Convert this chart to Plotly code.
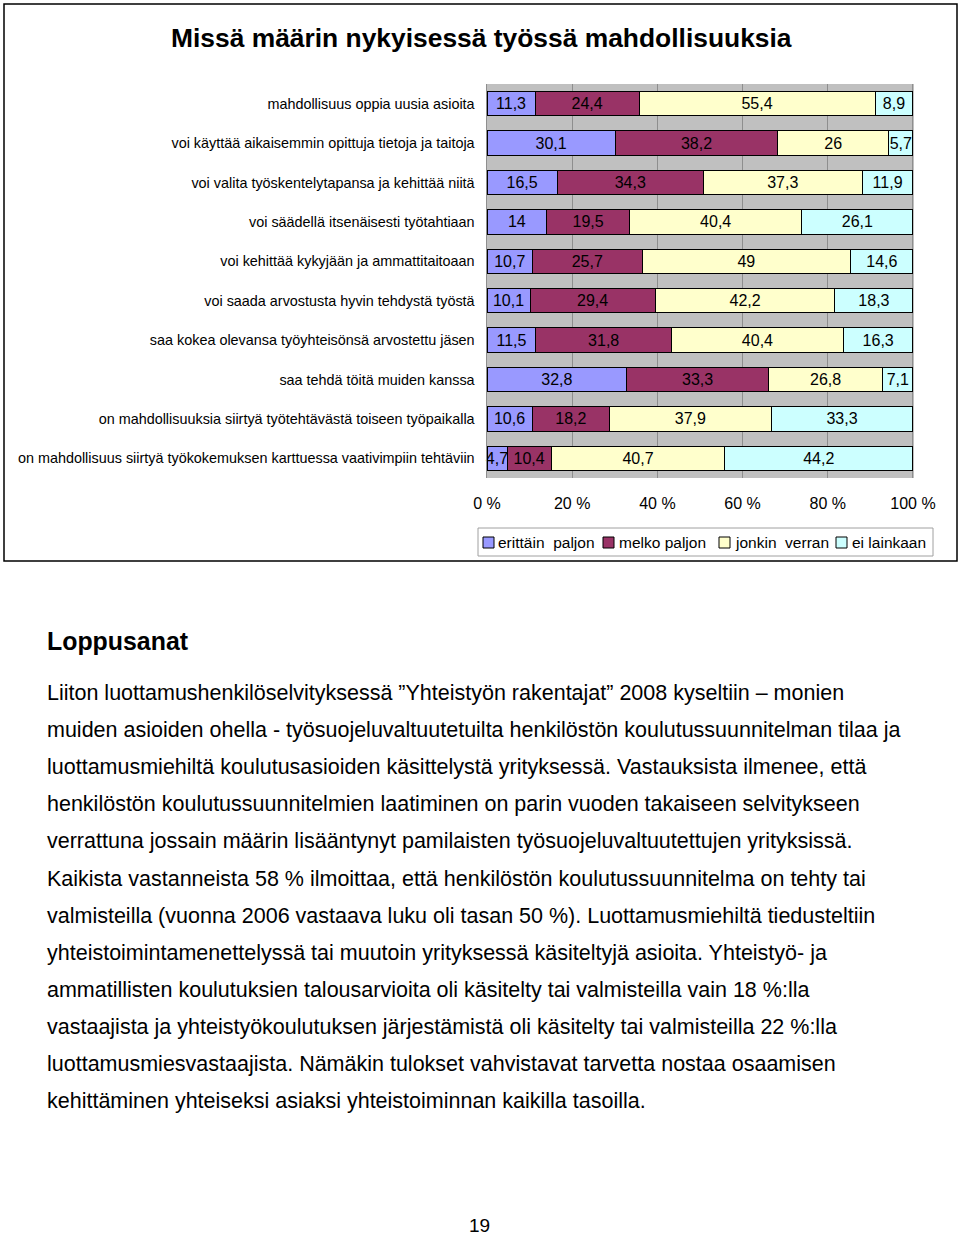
import plotly.graph_objects as go

FONT = "Liberation Sans, Arial, sans-serif"

title = "Missä määrin nykyisessä työssä mahdollisuuksia"
categories = [
    "mahdollisuus oppia uusia asioita",
    "voi käyttää aikaisemmin opittuja tietoja ja taitoja",
    "voi valita työskentelytapansa ja kehittää niitä",
    "voi säädellä itsenäisesti työtahtiaan",
    "voi kehittää kykyjään ja ammattitaitoaan",
    "voi saada arvostusta hyvin tehdystä työstä",
    "saa kokea olevansa työyhteisönsä arvostettu jäsen",
    "saa tehdä töitä muiden kanssa",
    "on mahdollisuuksia siirtyä työtehtävästä toiseen työpaikalla",
    "on mahdollisuus siirtyä työkokemuksen karttuessa vaativimpiin tehtäviin",
]
series_names = ["erittäin\u00a0 paljon", "melko paljon", "jonkin\u00a0 verran", "ei lainkaan"]
series_colors = ["#9999FF", "#993366", "#FFFFCC", "#CCFFFF"]
erittain_paljon = [11.3, 30.1, 16.5, 14, 10.7, 10.1, 11.5, 32.8, 10.6, 4.7]
melko_paljon = [24.4, 38.2, 34.3, 19.5, 25.7, 29.4, 31.8, 33.3, 18.2, 10.4]
jonkin_verran = [55.4, 26, 37.3, 40.4, 49, 42.2, 40.4, 26.8, 37.9, 40.7]
ei_lainkaan = [8.9, 5.7, 11.9, 26.1, 14.6, 18.3, 16.3, 7.1, 33.3, 44.2]
tick_values = [0, 20, 40, 60, 80, 100]
tick_labels = ["0 %", "20 %", "40 %", "60 %", "80 %", "100 %"]

heading = "Loppusanat"
paragraph_lines = [
    "Liiton luottamushenkilöselvityksessä ”Yhteistyön rakentajat” 2008 kyseltiin – monien",
    "muiden asioiden ohella - työsuojeluvaltuutetuilta henkilöstön koulutussuunnitelman tilaa ja",
    "luottamusmiehiltä koulutusasioiden käsittelystä yrityksessä. Vastauksista ilmenee, että",
    "henkilöstön koulutussuunnitelmien laatiminen on parin vuoden takaiseen selvitykseen",
    "verrattuna jossain määrin lisääntynyt pamilaisten työsuojeluvaltuutettujen yrityksissä.",
    "Kaikista vastanneista 58 % ilmoittaa, että henkilöstön koulutussuunnitelma on tehty tai",
    "valmisteilla (vuonna 2006 vastaava luku oli tasan 50 %). Luottamusmiehiltä tiedusteltiin",
    "yhteistoimintamenettelyssä tai muutoin yrityksessä käsiteltyjä asioita. Yhteistyö- ja",
    "ammatillisten koulutuksien talousarvioita oli käsitelty tai valmisteilla vain 18 %:lla",
    "vastaajista ja yhteistyökoulutuksen järjestämistä oli käsitelty tai valmisteilla 22 %:lla",
    "luottamusmiesvastaajista. Nämäkin tulokset vahvistavat tarvetta nostaa osaamisen",
    "kehittäminen yhteiseksi asiaksi yhteistoiminnan kaikilla tasoilla.",
]
page_number = "19"

W, H = 960, 1235
def px(x):
    return x / W
def py(y):
    return 1 - y / H

def fmt(v):
    return ("%g" % v).replace(".", ",")

fig = go.Figure()
all_series = [erittain_paljon, melko_paljon, jonkin_verran, ei_lainkaan]
for name, color, vals in zip(series_names, series_colors, all_series):
    fig.add_trace(go.Bar(
        y=categories, x=vals, orientation="h", name=name,
        marker=dict(color=color, line=dict(color="black", width=1)),
        width=0.62,
        text=[fmt(v) for v in vals],
        textposition="inside", insidetextanchor="middle",
        constraintext="none", textangle=0, cliponaxis=False,
        textfont=dict(family=FONT, size=16, color="black"),
        showlegend=False,
    ))

fig.update_layout(
    width=W, height=H,
    autosize=False,
    showlegend=False,
    margin=dict(l=0, r=0, t=0, b=0, pad=0, autoexpand=False),
    paper_bgcolor="white",
    plot_bgcolor="#C0C0C0",
    barmode="stack",
    font=dict(family=FONT, color="black"),
    xaxis=dict(
        domain=[px(486.5), px(914)], range=[-0.12, 100.25],
        tickvals=tick_values, ticktext=tick_labels,
        tickfont=dict(family=FONT, size=16, color="black"),
        showgrid=True, gridcolor="#8E8E8E", gridwidth=1,
        zeroline=False, showline=False, ticks="",
        ticklabelstandoff=14, fixedrange=True, automargin=False,
    ),
    yaxis=dict(
        domain=[py(478), py(84)],
        categoryorder="array", categoryarray=categories,
        autorange="reversed",
        tickfont=dict(family=FONT, size=14.4, color="black"),
        ticks="", showgrid=False, zeroline=False,
        showline=True, linecolor="#8E8E8E",
        ticklabelstandoff=8, fixedrange=True, automargin=False,
    ),
)

shapes = []
shapes.append(dict(type="rect", xref="paper", yref="paper",
                   x0=px(4), x1=px(957), y0=py(561), y1=py(4),
                   line=dict(color="black", width=1.5)))
shapes.append(dict(type="rect", xref="paper", yref="paper",
                   x0=px(478), x1=px(933), y0=py(556), y1=py(528),
                   line=dict(color="#A0A0A0", width=1)))
legend_square_x = [483, 603, 719, 836]
legend_text_x = [496, 617, 733, 850]
annotations = []
for name, color, sx, tx in zip(series_names, series_colors, legend_square_x, legend_text_x):
    shapes.append(dict(type="rect", xref="paper", yref="paper",
                       x0=px(sx), x1=px(sx + 11), y0=py(548), y1=py(537),
                       fillcolor=color, line=dict(color="black", width=1)))
    annotations.append(dict(x=px(tx), y=py(542.5), xref="paper", yref="paper",
                            text=name, showarrow=False, xanchor="left", yanchor="middle",
                            font=dict(family=FONT, size=15.5, color="black")))

annotations.append(dict(x=px(481), y=py(38), xref="paper", yref="paper",
                        text="<b>" + title + "</b>", showarrow=False,
                        xanchor="center", yanchor="middle",
                        font=dict(family=FONT, size=26.4, color="black")))
annotations.append(dict(x=px(45), y=py(641), xref="paper", yref="paper",
                        text="<b>" + heading + "</b>", showarrow=False,
                        xanchor="left", yanchor="middle",
                        font=dict(family=FONT, size=24.9, color="black")))
for i, line in enumerate(paragraph_lines):
    annotations.append(dict(x=px(45), y=py(693 + i * 37.1), xref="paper", yref="paper",
                            text=line, showarrow=False, xanchor="left", yanchor="middle",
                            font=dict(family=FONT, size=21.5, color="black")))
annotations.append(dict(x=px(479), y=py(1225), xref="paper", yref="paper",
                        text=page_number, showarrow=False, xanchor="center", yanchor="middle",
                        font=dict(family=FONT, size=19, color="black")))

fig.update_layout(shapes=shapes, annotations=annotations)
fig.write_html(
    "out.html",
    config={"displayModeBar": False, "responsive": False},
    post_script="document.documentElement.style.margin='0';"
                "document.body.style.margin='0';"
                "document.documentElement.style.overflow='hidden';"
                "document.body.style.overflow='hidden';",
)
